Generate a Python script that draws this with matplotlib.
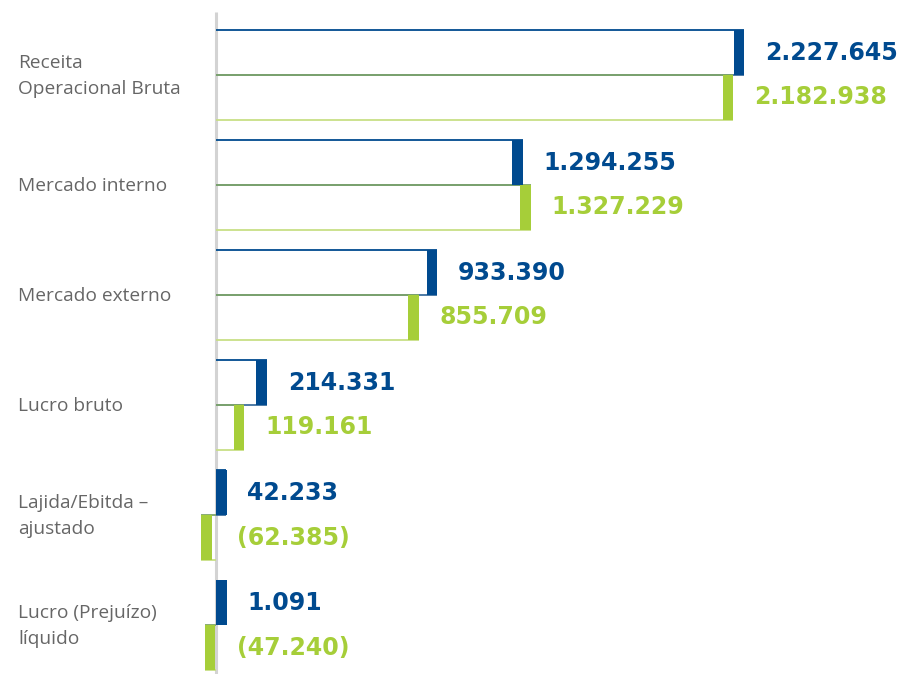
import matplotlib
matplotlib.use("Agg")
import matplotlib.pyplot as plt
from matplotlib.patches import Rectangle

categories = ["Receita\nOperacional Bruta", "Mercado interno", "Mercado externo",
              "Lucro bruto", "Lajida/Ebitda –\najustado", "Lucro (Prejuízo)\nlíquido"]
values_blue = [2227645, 1294255, 933390, 214331, 42233, 1091]
values_green = [2182938, 1327229, 855709, 119161, -62385, -47240]

def fmt(v):
    s = f"{abs(v):,}".replace(",", ".")
    return f"({s})" if v < 0 else s

BLUE = "#004A8F"
GREEN = "#A6CE39"
GREEN_LIGHT = "#C8DF86"
GRAY = "#D3D3D3"
TEXT = "#666666"

W, H = 901, 674
fig = plt.figure(figsize=(W / 100, H / 100), dpi=100)
ax = fig.add_axes([0, 0, 1, 1])
ax.axis("off")

upx = 4219.0  # data units per pixel
x0px = 216
ax.set_xlim(-x0px * upx, (W - x0px) * upx)
gap = 110.0
c0 = 75.0
ax.set_ylim((H - c0) / gap, -c0 / gap)

bar_h = 45 / gap
cap_w = 10.5 * upx
lbl_off = 21 * upx

ax.plot([0, 0], [(12 - c0) / gap, (H - c0) / gap], color=GRAY, lw=2.2, zorder=1,
        solid_capstyle="butt")

def draw(v, yc, color, edge, edge_bottom):
    top = yc - bar_h / 2
    ax.plot([0, v], [top, top], color=edge, lw=1.3, zorder=2, solid_capstyle="butt")
    ax.plot([0, v], [top + bar_h, top + bar_h], color=edge_bottom, lw=1.3, zorder=2,
            solid_capstyle="butt")
    if v >= 0:
        cs, ce = max(0, v - cap_w), max(v, cap_w)
    else:
        cs, ce = v, min(0, v + cap_w)
    ax.add_patch(Rectangle((cs, top), ce - cs, bar_h, facecolor=color, edgecolor="none", zorder=3))
    lx = max(ce, 0) + lbl_off
    ax.text(lx, yc, fmt(v), color=color, fontsize=17, fontweight="bold",
            family="DejaVu Sans", va="center", ha="left")

for i, (cat, vb, vg) in enumerate(zip(categories, values_blue, values_green)):
    draw(vb, i - bar_h / 2, BLUE, BLUE, "#3F6F9E")
    draw(vg, i + bar_h / 2, GREEN, "#7FA56A", GREEN_LIGHT)
    ax.text(18 * upx - x0px * upx, i + 1 / gap, cat, color=TEXT, fontsize=13.8,
            family="Open Sans", va="center", ha="left", linespacing=1.55)

fig.savefig("out.png", dpi=100)
